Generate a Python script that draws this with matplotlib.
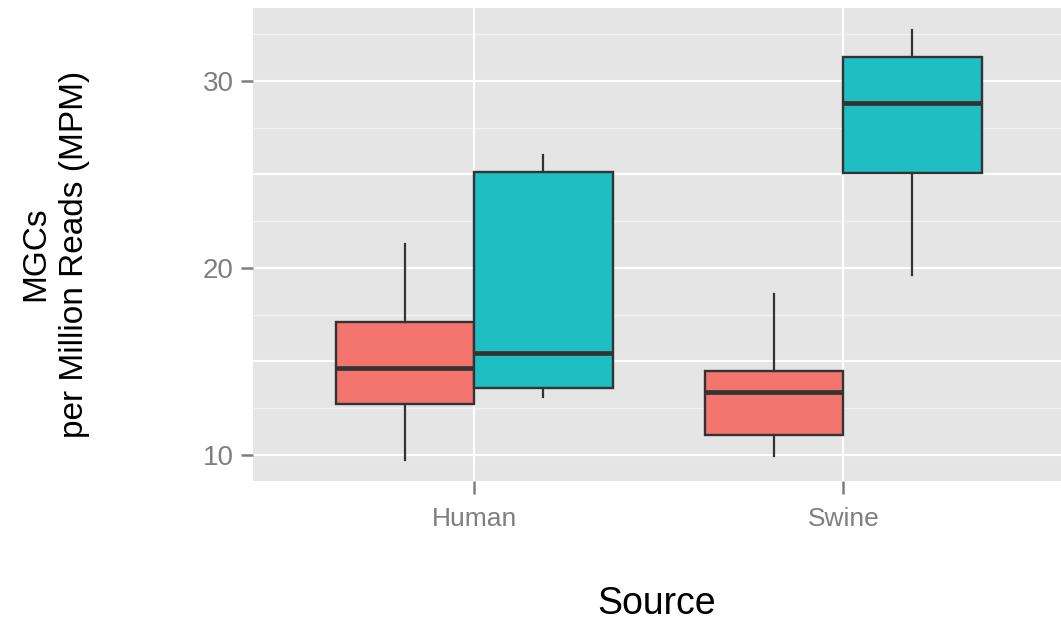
import matplotlib
matplotlib.use("Agg")
import matplotlib.pyplot as plt
import numpy as np

plt.rcParams['font.family'] = ['Liberation Sans', 'DejaVu Sans']

sources = ["Human", "Swine"]
groups = ["A", "B"]
fills = ["#F3756E", "#1EBEC3"]

# five-number summaries per source, one list per group
whislo = {"A": [9.75, 9.95], "B": [13.1, 19.6]}
q1 = {"A": [12.73, 11.07], "B": [13.58, 25.08]}
med = {"A": [14.65, 13.37], "B": [15.45, 28.82]}
q3 = {"A": [17.11, 14.49], "B": [25.13, 31.28]}
whishi = {"A": [21.28, 18.6], "B": [26.05, 32.75]}

y_labels = [10, 20, 30]
y_major = [10, 15, 20, 25, 30]
y_minor = [12.5, 17.5, 22.5, 27.5, 32.5]

fig = plt.figure(figsize=(10.61, 6.23), dpi=100)
ax = fig.add_axes([253 / 1061, (623 - 481) / 623, 1 - 253 / 1061, 473 / 623])
ax.set_facecolor("#E5E5E5")
for s in ax.spines.values():
    s.set_visible(False)

ax.set_xlim(0.401, 2.59)
ax.set_ylim(8.61, 33.9)

# grid
for y in y_minor:
    ax.axhline(y, color="#F2F2F2", lw=1.0, zorder=0.5)
for y in y_major:
    ax.axhline(y, color="white", lw=1.5, zorder=0.6)
for x in range(1, len(sources) + 1):
    ax.axvline(x, color="white", lw=1.5, zorder=0.6)

width = 0.375
offsets = [-width / 2, width / 2]
for g, off, col in zip(groups, offsets, fills):
    stats = []
    for i in range(len(sources)):
        stats.append(dict(whislo=whislo[g][i], q1=q1[g][i], med=med[g][i],
                          q3=q3[g][i], whishi=whishi[g][i], fliers=[]))
    pos = np.arange(1, len(sources) + 1) + off
    ax.bxp(stats, positions=pos, widths=width, patch_artist=True,
           showcaps=False, showfliers=False, manage_ticks=False,
           boxprops=dict(facecolor=col, edgecolor="#333333", linewidth=1.7),
           whiskerprops=dict(color="#333333", linewidth=1.6),
           medianprops=dict(color="#333333", linewidth=3.4,
                            solid_capstyle="butt"),
           zorder=2)

ax.set_xticks(range(1, len(sources) + 1))
ax.set_xticklabels(sources)
ax.set_yticks(y_labels)
ax.set_yticklabels([str(v) for v in y_labels])
ax.tick_params(axis="both", colors="#7F7F7F", labelsize=19, length=9,
               width=1.8, pad=5)
ax.tick_params(axis="y", labelsize=20)
ax.tick_params(axis="x", pad=10)

ax.set_xlabel("Source", fontsize=27, color="black", labelpad=39)
fig.text(55 / 1061, 1 - 254 / 623, "MGCs\nper Million Reads (MPM)",
         rotation=90, fontsize=24, ha="center", va="center",
         multialignment="center", linespacing=1.3)

fig.savefig("out.png", dpi=100)
